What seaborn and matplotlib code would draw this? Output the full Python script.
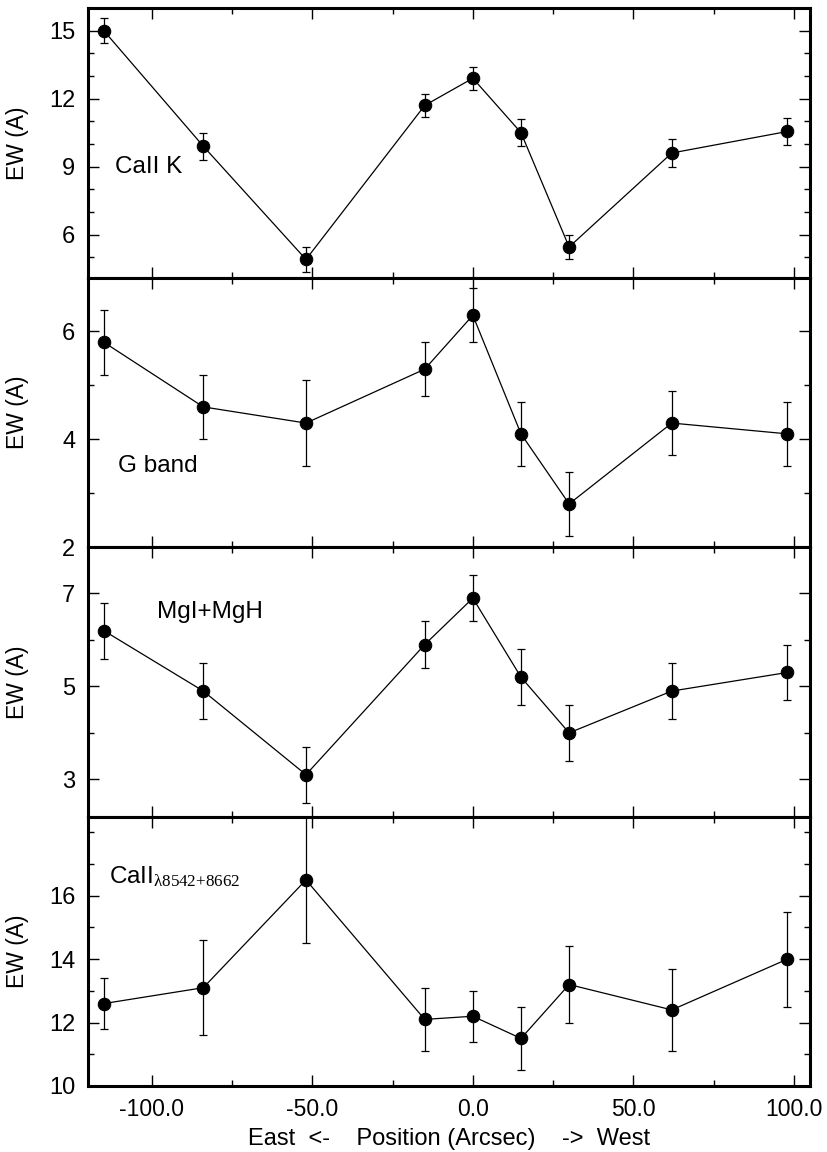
import matplotlib
matplotlib.use("Agg")
import matplotlib.pyplot as plt
from matplotlib.ticker import MultipleLocator, FixedLocator, FormatStrFormatter
import seaborn as sns
import pandas as pd

# Slit positions (arcsec, east negative)
position = [-115, -84, -52, -15, 0, 15, 30, 62, 98]

# Equivalent widths and their errors for each feature
caii_k = [15.0, 9.9, 4.9, 11.7, 12.9, 10.5, 5.45, 9.6, 10.55]
caii_k_err = [0.55, 0.6, 0.55, 0.5, 0.5, 0.6, 0.55, 0.6, 0.6]

g_band = [5.8, 4.6, 4.3, 5.3, 6.3, 4.1, 2.8, 4.3, 4.1]
g_band_err = [0.6, 0.6, 0.8, 0.5, 0.5, 0.6, 0.6, 0.6, 0.6]

mg = [6.2, 4.9, 3.1, 5.9, 6.9, 5.2, 4.0, 4.9, 5.3]
mg_err = [0.6, 0.6, 0.6, 0.5, 0.5, 0.6, 0.6, 0.6, 0.6]

caii_trip = [12.6, 13.1, 16.5, 12.1, 12.2, 11.5, 13.2, 12.4, 14.0]
caii_trip_err = [0.8, 1.5, 2.0, 1.0, 0.8, 1.0, 1.2, 1.3, 1.5]

panel_labels = ["CaII K", "G band", "MgI+MgH",
                r"CaII$_{\mathrm{\lambda 8542{+}8662}}$"]
panel_ylim = [(4.1, 16.0), (2.0, 7.0), (2.2, 8.0), (10.0, 18.5)]
panel_yticks = [[6, 9, 12, 15], [2, 4, 6], [3, 5, 7], [10, 12, 14, 16]]
label_pos = [(-111.5, 9.0), (-110.5, 3.5), (-98.5, 6.6), (-113.5, 16.6)]
x_ticks = [-100, -50, 0, 50, 100]

sns.set_theme(style="ticks")
plt.rcParams["font.family"] = ["Liberation Sans", "DejaVu Sans"]
plt.rcParams["mathtext.fontset"] = "custom"
plt.rcParams["mathtext.rm"] = "Liberation Serif"
plt.rcParams["mathtext.it"] = "Liberation Serif:italic"
plt.rcParams["text.color"] = "black"
plt.rcParams["axes.labelcolor"] = "black"

fig = plt.figure(figsize=(8.28, 11.52), dpi=100)
gs = fig.add_gridspec(4, 1, left=0.106, right=0.978, top=0.993,
                      bottom=0.0573, hspace=0.0)
axes = [fig.add_subplot(gs[i]) for i in range(4)]
for ax in axes[1:]:
    ax.sharex(axes[0])

series = [(caii_k, caii_k_err), (g_band, g_band_err),
          (mg, mg_err), (caii_trip, caii_trip_err)]

for i, (ax, (vals, errs)) in enumerate(zip(axes, series)):
    df = pd.DataFrame({"pos": position, "ew": vals, "err": errs})
    ax.errorbar(df["pos"], df["ew"], yerr=df["err"], fmt="none",
                ecolor="black", elinewidth=0.9, capsize=3, capthick=0.9,
                zorder=2)
    sns.lineplot(data=df, x="pos", y="ew", ax=ax, color="black",
                 linewidth=0.9, marker="o", markersize=9,
                 markeredgecolor="black", markerfacecolor="black",
                 sort=False, zorder=3)
    ax.set_xlim(-120, 105)
    ax.set_ylim(*panel_ylim[i])
    ax.yaxis.set_major_locator(FixedLocator(panel_yticks[i]))
    ax.yaxis.set_minor_locator(MultipleLocator(1))
    ax.xaxis.set_major_locator(FixedLocator(x_ticks))
    ax.xaxis.set_minor_locator(MultipleLocator(25))
    ax.tick_params(which="both", direction="in", top=True, right=True,
                   colors="black", width=1.0)
    ax.tick_params(which="major", length=8)
    ax.tick_params(which="minor", length=4)
    ax.tick_params(axis="y", labelsize=17, pad=9)
    ax.tick_params(axis="x", labelsize=16.5, pad=9)
    for sp in ax.spines.values():
        sp.set_linewidth(2.2)
        sp.set_color("black")
    ax.set_ylabel("EW (A)", fontsize=16.5)
    ax.set_xlabel("")
    tx, ty = label_pos[i]
    ax.text(tx, ty, panel_labels[i], fontsize=17.5, ha="left", va="center",
            color="black")
    if i < 3:
        ax.tick_params(axis="x", labelbottom=False)

axes[3].xaxis.set_major_formatter(FormatStrFormatter("%.1f"))
axes[3].set_xlabel("East  <-    Position (Arcsec)    ->  West", fontsize=17,
                   labelpad=5)
for ax in axes:
    ax.yaxis.set_label_coords(-0.082, 0.5)

fig.savefig("out.png", dpi=100, facecolor="white")
